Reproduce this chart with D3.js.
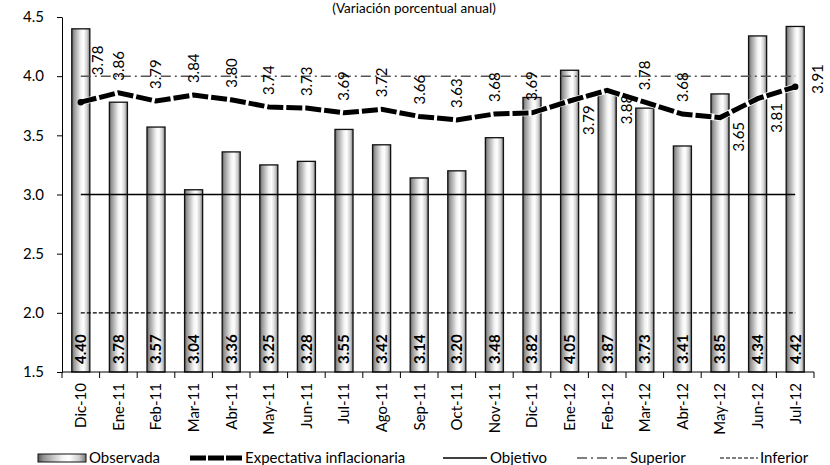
<!DOCTYPE html>
<html>
<head>
<meta charset="utf-8">
<script src="https://cdn.jsdelivr.net/npm/d3@7"></script>
<style>
  html, body { margin: 0; padding: 0; background: #fff; }
  svg { display: block; font-family: Lato, "Open Sans", sans-serif; }
</style>
</head>
<body>
<svg id="chart" width="830" height="465"></svg>
<script>
// Monthly inflation: observed vs. expectations, with target band
const categories = ["Dic-10","Ene-11","Feb-11","Mar-11","Abr-11","May-11","Jun-11","Jul-11","Ago-11","Sep-11",
                    "Oct-11","Nov-11","Dic-11","Ene-12","Feb-12","Mar-12","Abr-12","May-12","Jun-12","Jul-12"];
const observada   = [4.40,3.78,3.57,3.04,3.36,3.25,3.28,3.55,3.42,3.14,3.20,3.48,3.82,4.05,3.87,3.73,3.41,3.85,4.34,4.42];
const expectativa = [3.78,3.86,3.79,3.84,3.80,3.74,3.73,3.69,3.72,3.66,3.63,3.68,3.69,3.79,3.88,3.78,3.68,3.65,3.81,3.91];
const objetivo = 3.0;
const superior = 4.0;
const inferior = 2.0;
const yTicks = [1.5, 2.0, 2.5, 3.0, 3.5, 4.0, 4.5];
const legendLabels = ["Observada", "Expectativa inflacionaria", "Objetivo", "Superior", "Inferior"];
const subtitle = "(Variación porcentual anual)";

const svg = d3.select("#chart");
const fmt1 = d3.format(".1f");
const fmt2 = d3.format(".2f");

const x = d3.scaleBand().domain(categories).range([62, 814]).paddingInner(0).paddingOuter(0);
const y = d3.scaleLinear().domain([1.5, 4.5]).range([372, 17]);
const bw = x.bandwidth();
const cx = c => x(c) + bw / 2;
const barW = bw * 0.48;

// gradient fill for the columns
const defs = svg.append("defs");
const grad = defs.append("linearGradient").attr("id", "barGrad").attr("x1", "0").attr("x2", "1").attr("y1", "0").attr("y2", "0");
[[0, "#5a5a5a"], [0.12, "#959595"], [0.5, "#f2f2f2"], [0.65, "#ffffff"], [0.85, "#d0d0d0"], [1, "#777777"]]
  .forEach(([o, c]) => grad.append("stop").attr("offset", o).attr("stop-color", c));

// subtitle at the very top
svg.append("text").attr("x", 414).attr("y", 13).attr("text-anchor", "middle")
  .style("font-size", "13.5px").attr("fill", "#000").text(subtitle);

// y axis
const yAxis = svg.append("g").attr("transform", "translate(62,0)")
  .call(d3.axisLeft(y).tickValues(yTicks).tickFormat(fmt1).tickSize(5).tickSizeOuter(0).tickPadding(13));
yAxis.selectAll("text").style("font-size", "15px").attr("fill", "#000").style("font-family", "Lato, sans-serif");
yAxis.selectAll("line, path").attr("stroke", "#000");

// bars
svg.append("g").selectAll("rect").data(categories).join("rect")
  .attr("x", (c) => cx(c) - barW / 2)
  .attr("width", barW)
  .attr("y", (c, i) => y(observada[i]))
  .attr("height", (c, i) => y(1.5) - y(observada[i]))
  .attr("fill", "url(#barGrad)")
  .attr("stroke", "#111").attr("stroke-width", 1.3);

// value labels inside the bars
svg.append("g").selectAll("text").data(categories).join("text")
  .attr("transform", c => `translate(${cx(c)},${y(1.5) - 8}) rotate(-90)`)
  .attr("dy", "0.36em")
  .attr("text-anchor", "start")
  .style("font-size", "15px").style("font-weight", "bold")
  .text((c, i) => fmt2(observada[i]));

// reference lines: target, upper and lower bounds
const x0 = cx(categories[0]), x1 = cx(categories[categories.length - 1]);
svg.append("line").attr("x1", x0).attr("x2", x1).attr("y1", y(objetivo)).attr("y2", y(objetivo))
  .attr("stroke", "#000").attr("stroke-width", 1.3);
svg.append("line").attr("x1", x0).attr("x2", x1).attr("y1", y(superior)).attr("y2", y(superior))
  .attr("stroke", "#555").attr("stroke-width", 1.5).attr("stroke-dasharray", "10,4,2,4");
svg.append("line").attr("x1", x0).attr("x2", x1).attr("y1", y(inferior)).attr("y2", y(inferior))
  .attr("stroke", "#000").attr("stroke-width", 1.2).attr("stroke-dasharray", "4,2");

// x axis with ticks on category boundaries
svg.append("line").attr("x1", 62).attr("x2", 814).attr("y1", y(1.5)).attr("y2", y(1.5))
  .attr("stroke", "#000").attr("stroke-width", 1);
const bounds = categories.map(c => x(c)).concat([x.range()[1]]);
svg.append("g").selectAll("line").data(bounds).join("line")
  .attr("x1", d => d).attr("x2", d => d).attr("y1", y(1.5)).attr("y2", y(1.5) + 6)
  .attr("stroke", "#000");
svg.append("g").selectAll("text").data(categories).join("text")
  .attr("transform", c => `translate(${cx(c)},${y(1.5) + 11}) rotate(-90)`)
  .attr("dy", "0.36em").attr("text-anchor", "end")
  .style("font-size", "15px").text(c => c);

// expectations line
const line = d3.line().x((d, i) => cx(categories[i])).y(d => y(d));
svg.append("path").datum(expectativa).attr("d", line)
  .attr("fill", "none").attr("stroke", "#fff").attr("stroke-width", 6.5);
svg.append("path").datum(expectativa).attr("d", line)
  .attr("fill", "none").attr("stroke", "#000").attr("stroke-width", 5)
  .attr("stroke-dasharray", "16,3");
[0, expectativa.length - 1].forEach(i => {
  svg.append("circle").attr("cx", cx(categories[i])).attr("cy", y(expectativa[i])).attr("r", 3.2).attr("fill", "#000");
});

// expectation labels: above the point by default, some placed below-right
const belowRight = new Set(["Ene-12", "Feb-12", "May-12", "Jun-12"]);
svg.append("g").selectAll("text").data(categories).join("text")
  .attr("transform", (c, i) => {
    const px = cx(c), py = y(expectativa[i]);
    if (i === 0) return `translate(${px + 17},${py - 27}) rotate(-90)`;
    if (i === categories.length - 1) return `translate(${px + 22},${py + 7}) rotate(-90)`;
    if (belowRight.has(c)) return `translate(${px + 19},${py + 34}) rotate(-90)`;
    return `translate(${px},${py - 12}) rotate(-90)`;
  })
  .attr("dy", "0.36em").attr("text-anchor", "start")
  .style("font-size", "15px")
  .text((c, i) => fmt2(expectativa[i]));

// legend
const lg = svg.append("g").style("font-size", "15px");
const ly = 458;
lg.append("rect").attr("x", 38).attr("y", ly - 4).attr("width", 48).attr("height", 8)
  .attr("fill", "url(#barGrad)").attr("stroke", "#111").attr("stroke-width", 1);
lg.append("text").attr("x", 89).attr("y", ly).attr("dy", "0.36em").text(legendLabels[0]);
lg.append("line").attr("x1", 190).attr("x2", 243).attr("y1", ly).attr("y2", ly)
  .attr("stroke", "#000").attr("stroke-width", 5).attr("stroke-dasharray", "16,2");
lg.append("text").attr("x", 245).attr("y", ly).attr("dy", "0.36em").text(legendLabels[1]);
lg.append("line").attr("x1", 443).attr("x2", 487).attr("y1", ly).attr("y2", ly)
  .attr("stroke", "#000").attr("stroke-width", 1.3);
lg.append("text").attr("x", 490).attr("y", ly).attr("dy", "0.36em").text(legendLabels[2]);
lg.append("line").attr("x1", 577).attr("x2", 628).attr("y1", ly).attr("y2", ly)
  .attr("stroke", "#555").attr("stroke-width", 1.5).attr("stroke-dasharray", "10,4,2,4");
lg.append("text").attr("x", 630).attr("y", ly).attr("dy", "0.36em").text(legendLabels[3]);
lg.append("line").attr("x1", 720).attr("x2", 758).attr("y1", ly).attr("y2", ly)
  .attr("stroke", "#000").attr("stroke-width", 1.2).attr("stroke-dasharray", "4,2");
lg.append("text").attr("x", 760).attr("y", ly).attr("dy", "0.36em").text(legendLabels[4]);
</script>
</body>
</html>
